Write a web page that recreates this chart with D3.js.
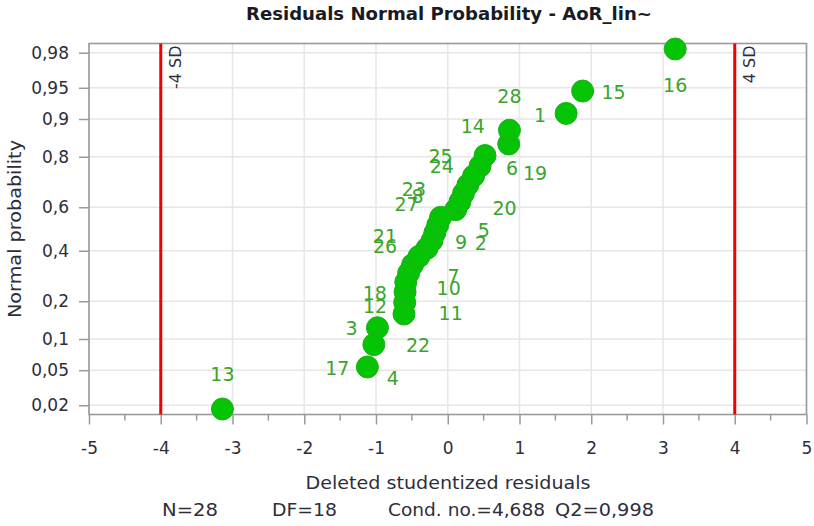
<!DOCTYPE html>
<html>
<head>
<meta charset="utf-8">
<script src="https://cdn.jsdelivr.net/npm/d3@7/dist/d3.min.js"></script>
<style>
  body { margin: 0; background: #fff; }
  text { font-family: "DejaVu Sans", sans-serif; }
</style>
</head>
<body>
<svg id="chart" width="814" height="526"></svg>
<script>
// Observations: number, deleted studentized residual, normal probability
const obsNo = [1, 2, 3, 4, 5, 6, 7, 8, 9, 10, 11, 12, 13, 14,
               15, 16, 17, 18, 19, 20, 21, 22, 23, 24, 25, 26, 27, 28];
const residuals = [1.65, -0.18, -0.98, -1.03, -0.14, 0.52, -0.49, 0.11, -0.22, -0.545,
                   -0.60, -0.595, -3.14, 0.85, 1.88, 3.17, -1.12, -0.585, 0.45, 0.22,
                   -0.29, -0.61, 0.17, 0.28, 0.36, -0.40, -0.10, 0.86];
const normProb = [0.911, 0.482, 0.125, 0.089, 0.518, 0.804, 0.339, 0.589, 0.446, 0.304,
                  0.196, 0.232, 0.018, 0.839, 0.946, 0.982, 0.054, 0.268, 0.768, 0.661,
                  0.411, 0.161, 0.625, 0.696, 0.732, 0.375, 0.554, 0.875];

const xTickValues = [-5, -4, -3, -2, -1, 0, 1, 2, 3, 4, 5];
const xTickLabels = ["-5", "-4", "-3", "-2", "-1", "0", "1", "2", "3", "4", "5"];
const yTickValues = [0.02, 0.05, 0.1, 0.2, 0.4, 0.6, 0.8, 0.9, 0.95, 0.98];
const yTickLabels = ["0,02", "0,05", "0,1", "0,2", "0,4", "0,6", "0,8", "0,9", "0,95", "0,98"];
const sdLimits = [-4, 4];
const sdLabels = ["-4 SD", "4 SD"];
const statTexts = ["N=28", "DF=18", "Cond. no.=4,688", "Q2=0,998"];

const titleText = "Residuals Normal Probability - AoR_lin~";
const xTitle = "Deleted studentized residuals";
const yTitle = "Normal probability";

// Label placement (pixel offset of each observation label from its marker)
const labelOffset = {
  1: [-26, 2], 2: [46, 10], 3: [-26, 0], 4: [19, 33], 5: [46, 5], 6: [27, 12],
  7: [41, 11], 8: [-38, -14], 9: [29, 1], 10: [40, 15], 11: [46, 11], 12: [-30, 14],
  13: [0, -35], 14: [-36, -18], 15: [31, 1], 16: [0, 36], 17: [-30, 1], 18: [-31, 11],
  19: [55, 7], 20: [41, 15], 21: [-42, -12], 22: [14, 31], 23: [-46, -13], 24: [-26, -19],
  25: [-33, -20], 26: [-34, -10], 27: [-34, -13], 28: [0, -34]
};

// Inverse standard normal CDF (Acklam's rational approximation)
function probit(p) {
  const a = [-3.969683028665376e+01, 2.209460984245205e+02, -2.759285104469687e+02,
             1.383577518672690e+02, -3.066479806614716e+01, 2.506628277459239e+00];
  const b = [-5.447609879822406e+01, 1.615858368580409e+02, -1.556989798598866e+02,
             6.680131188771972e+01, -1.328068155288572e+01];
  const c = [-7.784894002430293e-03, -3.223964580411365e-01, -2.400758277161838e+00,
             -2.549732539343734e+00, 4.374664141464968e+00, 2.938163982698783e+00];
  const d = [7.784695709041462e-03, 3.224671290700398e-01, 2.445134137142996e+00,
             3.754408661907416e+00];
  const pl = 0.02425, ph = 1 - pl;
  let q, r;
  if (p < pl) {
    q = Math.sqrt(-2 * Math.log(p));
    return (((((c[0]*q+c[1])*q+c[2])*q+c[3])*q+c[4])*q+c[5]) /
           ((((d[0]*q+d[1])*q+d[2])*q+d[3])*q+1);
  }
  if (p <= ph) {
    q = p - 0.5; r = q * q;
    return (((((a[0]*r+a[1])*r+a[2])*r+a[3])*r+a[4])*r+a[5])*q /
           (((((b[0]*r+b[1])*r+b[2])*r+b[3])*r+b[4])*r+1);
  }
  q = Math.sqrt(-2 * Math.log(1 - p));
  return -(((((c[0]*q+c[1])*q+c[2])*q+c[3])*q+c[4])*q+c[5]) /
          ((((d[0]*q+d[1])*q+d[2])*q+d[3])*q+1);
}

const svg = d3.select("#chart");
const plot = { left: 89, right: 806.5, top: 43.5, bottom: 414.5 };

const x = d3.scaleLinear().domain([-5, 5]).range([plot.left, plot.right]);
const zy = d3.scaleLinear().domain([-2.161, 2.161]).range([plot.bottom, plot.top]);
const y = p => zy(probit(p));

const gridColor = "#e6e6e6";
const frameColor = "#9a9a9a";
const textColor = "#2e2e3a";

// Gridlines
svg.append("g").selectAll("line").data(xTickValues).join("line")
  .attr("x1", d => x(d)).attr("x2", d => x(d))
  .attr("y1", plot.top).attr("y2", plot.bottom)
  .attr("stroke", gridColor).attr("stroke-width", 1.5);
svg.append("g").selectAll("line").data(yTickValues).join("line")
  .attr("x1", plot.left).attr("x2", plot.right)
  .attr("y1", d => y(d)).attr("y2", d => y(d))
  .attr("stroke", gridColor).attr("stroke-width", 1.5);

// Frame
svg.append("rect")
  .attr("x", plot.left).attr("y", plot.top)
  .attr("width", plot.right - plot.left).attr("height", plot.bottom - plot.top)
  .attr("fill", "none").attr("stroke", frameColor).attr("stroke-width", 1.6);

// X axis (major ticks at integers, minor at halves)
const xAxis = d3.axisBottom(x)
  .tickValues(xTickValues)
  .tickFormat((d, i) => xTickLabels[i])
  .tickSize(10).tickPadding(17);
const gx = svg.append("g").attr("transform", `translate(0,${plot.bottom})`).call(xAxis);
gx.select(".domain").remove();
gx.selectAll(".tick line").attr("stroke", frameColor).attr("stroke-width", 1.5);
gx.selectAll(".tick text").attr("fill", textColor).style("font-size", "17px")
  .style("font-family", "DejaVu Sans, sans-serif");

const minorTicks = d3.range(-4.5, 5, 1);
svg.append("g").selectAll("line").data(minorTicks).join("line")
  .attr("x1", d => x(d)).attr("x2", d => x(d))
  .attr("y1", plot.bottom).attr("y2", plot.bottom + 6)
  .attr("stroke", frameColor).attr("stroke-width", 1.5);

// Y axis on probit scale
const yAxis = d3.axisLeft(zy)
  .tickValues(yTickValues.map(probit))
  .tickFormat((d, i) => yTickLabels[i])
  .tickSize(10).tickPadding(10);
const gy = svg.append("g").attr("transform", `translate(${plot.left},0)`).call(yAxis);
gy.select(".domain").remove();
gy.selectAll(".tick line").attr("stroke", frameColor).attr("stroke-width", 1.5);
gy.selectAll(".tick text").attr("fill", textColor).style("font-size", "17px")
  .style("font-family", "DejaVu Sans, sans-serif");

// ±4 SD limit lines
svg.append("g").selectAll("line").data(sdLimits).join("line")
  .attr("x1", d => x(d)).attr("x2", d => x(d))
  .attr("y1", plot.top).attr("y2", plot.bottom)
  .attr("stroke", "#f00000").attr("stroke-width", 3);
svg.append("g").selectAll("text").data(sdLimits).join("text")
  .attr("transform", d => `translate(${x(d) + 20},${plot.top + 2}) rotate(-90)`)
  .attr("text-anchor", "end")
  .attr("fill", textColor)
  .style("font-size", "16px")
  .text((d, i) => sdLabels[i]);

// Observation markers
const pts = obsNo.map((n, i) => ({ n, r: residuals[i], p: normProb[i] }));
svg.append("g").selectAll("circle").data(pts).join("circle")
  .attr("cx", d => x(d.r)).attr("cy", d => y(d.p)).attr("r", 11)
  .attr("fill", "#04c404").attr("stroke", "#1fae1f").attr("stroke-width", 1);

// Observation labels
svg.append("g").selectAll("text").data(pts).join("text")
  .attr("x", d => x(d.r) + labelOffset[d.n][0])
  .attr("y", d => y(d.p) + labelOffset[d.n][1])
  .attr("text-anchor", "middle").attr("dominant-baseline", "central")
  .attr("fill", "#3aa42c")
  .style("font-size", "19px")
  .text(d => d.n);

// Titles
svg.append("text")
  .attr("x", 449).attr("y", 20).attr("text-anchor", "middle")
  .attr("fill", "#1a1a24").style("font-size", "17px").style("font-weight", "bold")
  .attr("textLength", 406).attr("lengthAdjust", "spacingAndGlyphs")
  .text(titleText);
svg.append("text")
  .attr("x", 448).attr("y", 489).attr("text-anchor", "middle")
  .attr("fill", textColor).style("font-size", "18px")
  .attr("textLength", 285).attr("lengthAdjust", "spacingAndGlyphs")
  .text(xTitle);
svg.append("text")
  .attr("transform", "translate(21,229) rotate(-90)").attr("text-anchor", "middle")
  .attr("fill", textColor).style("font-size", "18px")
  .attr("textLength", 178).attr("lengthAdjust", "spacingAndGlyphs")
  .text(yTitle);

// Model statistics footer
const statX = [162, 272, 388, 555];
const statW = [56, 65, 157, 99];
svg.append("g").selectAll("text").data(statTexts).join("text")
  .attr("x", (d, i) => statX[i]).attr("y", 516)
  .attr("fill", textColor).style("font-size", "18px")
  .attr("textLength", (d, i) => statW[i]).attr("lengthAdjust", "spacingAndGlyphs")
  .text(d => d);
</script>
</body>
</html>
